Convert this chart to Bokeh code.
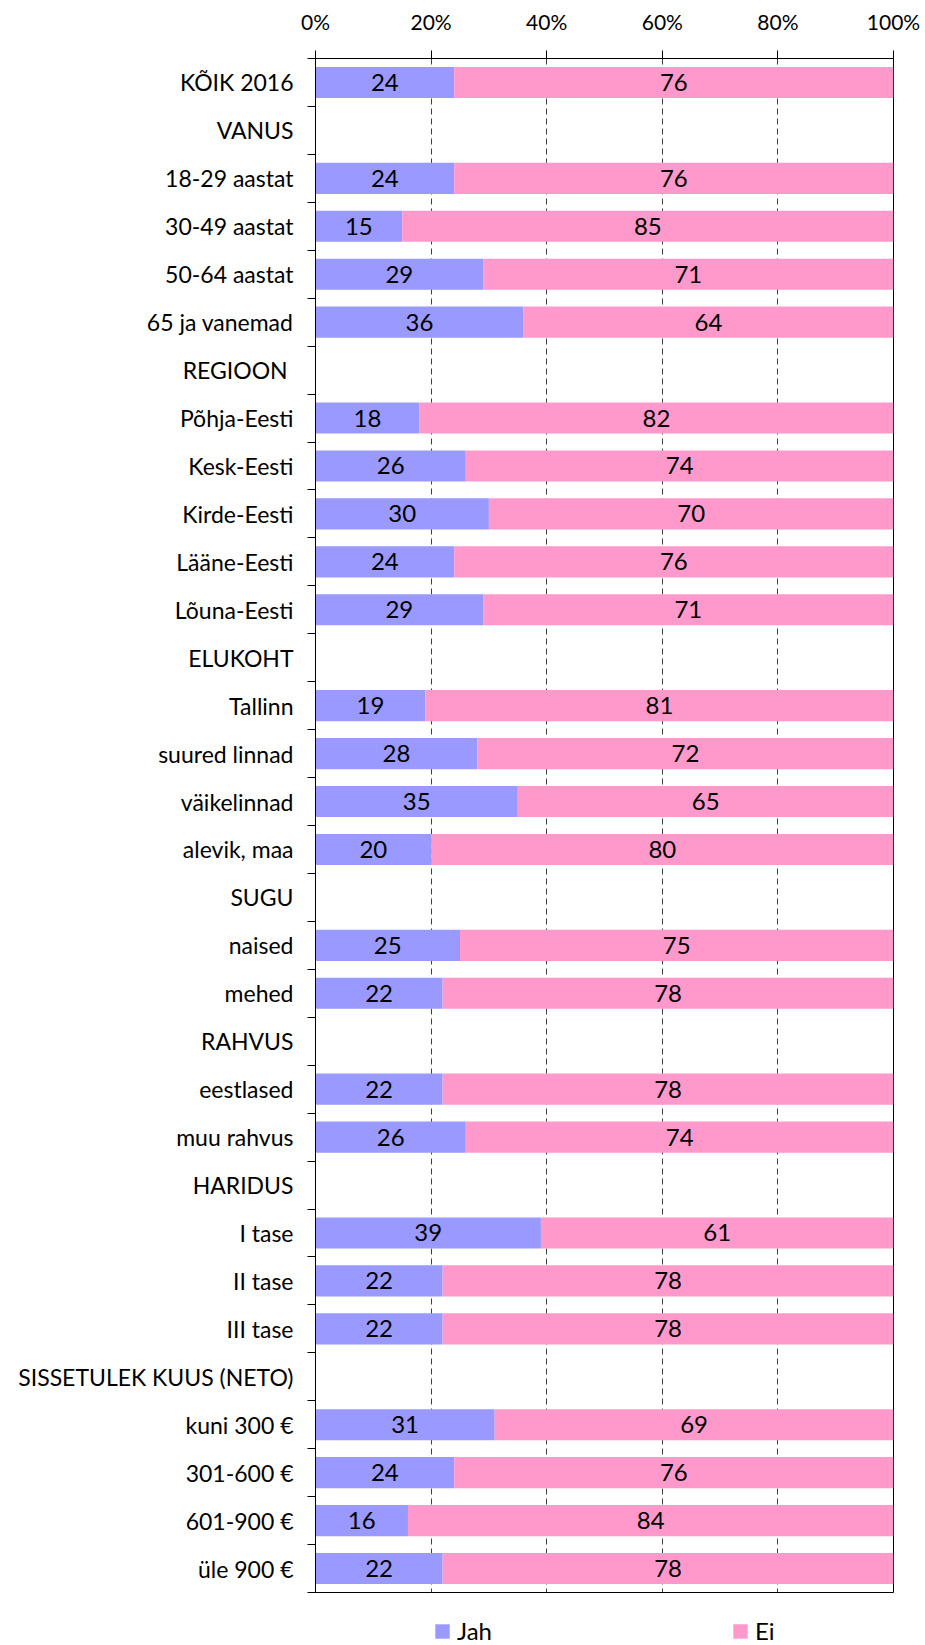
from bokeh.plotting import figure
from bokeh.layouts import column
from bokeh.models import (Range1d, FixedTicker, PrintfTickFormatter, Legend, LegendItem,
                          ColumnDataSource)
from bokeh.embed import file_html
from bokeh.resources import INLINE

categories = ["KÕIK 2016", "VANUS", "18-29 aastat", "30-49 aastat", "50-64 aastat",
              "65 ja vanemad", "REGIOON ", "Põhja-Eesti", "Kesk-Eesti", "Kirde-Eesti",
              "Lääne-Eesti", "Lõuna-Eesti", "ELUKOHT", "Tallinn", "suured linnad",
              "väikelinnad", "alevik, maa", "SUGU", "naised", "mehed", "RAHVUS",
              "eestlased", "muu rahvus", "HARIDUS", "I tase", "II tase", "III tase",
              "SISSETULEK KUUS (NETO)", "kuni 300 €", "301-600 €", "601-900 €", "üle 900 €"]
jah = [24, None, 24, 15, 29, 36, None, 18, 26, 30, 24, 29, None, 19, 28, 35, 20, None,
       25, 22, None, 22, 26, None, 39, 22, 22, None, 31, 24, 16, 22]
ei = [76, None, 76, 85, 71, 64, None, 82, 74, 70, 76, 71, None, 81, 72, 65, 80, None,
      75, 78, None, 78, 74, None, 61, 78, 78, None, 69, 76, 84, 78]
series_names = ["Jah", "Ei"]
x_ticks = [0, 20, 40, 60, 80, 100]

JAH_COLOR = "#9999FF"
EI_COLOR = "#FF99CC"
FONT = "Lato"

n = len(categories)
centers = [i + 0.5 for i in range(n)]
rows = [i for i in range(n) if jah[i] is not None]
src = ColumnDataSource(dict(
    y=[centers[i] for i in rows],
    jah=[jah[i] for i in rows],
    ei_right=[jah[i] + ei[i] for i in rows],
    jah_mid=[jah[i] / 2 for i in rows],
    ei_mid=[jah[i] + ei[i] / 2 for i in rows],
    jah_txt=[str(jah[i]) for i in rows],
    ei_txt=[str(ei[i]) for i in rows],
))

p = figure(width=925, height=1608, output_backend="svg", toolbar_location=None,
           x_range=Range1d(0, 100), y_range=Range1d(n, 0),
           x_axis_location="above",
           min_border_left=315, min_border_right=32, min_border_top=58, min_border_bottom=16)
p.outline_line_color = "black"
p.outline_line_width = 1
p.background_fill_color = "white"
p.border_fill_color = "white"

# grid
p.ygrid.visible = False
p.xgrid.ticker = FixedTicker(ticks=x_ticks[1:])
p.xgrid.grid_line_color = "#404040"
p.xgrid.grid_line_dash = "6 4"
p.xgrid.grid_line_width = 1

# bars
p.hbar(y="y", left=0, right="jah", height=0.65, source=src, fill_color=JAH_COLOR,
       line_color=None)
p.hbar(y="y", left="jah", right="ei_right", height=0.65, source=src,
       fill_color=EI_COLOR, line_color=None)

# labels
p.text(x="jah_mid", y="y", text="jah_txt", source=src, text_align="center",
       text_baseline="middle", text_font_size="24px", text_color="black",
       text_font={"value": FONT})
p.text(x="ei_mid", y="y", text="ei_txt", source=src, text_align="center",
       text_baseline="middle", text_font_size="24px", text_color="black",
       text_font={"value": FONT})

# top axis
xa = p.xaxis[0]
xa.ticker = FixedTicker(ticks=x_ticks)
xa.formatter = PrintfTickFormatter(format="%d%%")
xa.major_tick_out = 8
xa.major_tick_in = 0
xa.minor_tick_out = 0
xa.minor_tick_in = 0
xa.axis_line_color = "black"
xa.major_tick_line_color = "black"
xa.major_label_text_font = FONT
xa.major_label_text_font_size = "21px"
xa.major_label_text_color = "black"
xa.major_label_standoff = 17

# left axis
ya = p.yaxis[0]
ya.ticker = FixedTicker(ticks=centers, minor_ticks=list(range(n + 1)))
ya.major_label_overrides = {c: lab for c, lab in zip(centers, categories)}
ya.major_tick_out = 0
ya.major_tick_in = 0
ya.minor_tick_out = 8
ya.minor_tick_in = 0
ya.minor_tick_line_color = "black"
ya.axis_line_color = "black"
ya.major_label_text_font = FONT
ya.major_label_text_font_size = "23px"
ya.major_label_text_color = "black"
ya.major_label_standoff = 14

# legend strip (its renderers share the data but are hidden; only legend swatches show)
p2 = figure(width=925, height=37, output_backend="svg", toolbar_location=None,
            x_range=p.x_range, y_range=Range1d(-2, -1),
            min_border_left=315, min_border_right=32, min_border_top=0, min_border_bottom=0)
p2.axis.visible = False
p2.grid.visible = False
p2.outline_line_color = None
p2.border_fill_color = "white"
l1 = p2.hbar(y="y", left=0, right="jah", height=0.65, source=src,
             fill_color=JAH_COLOR, line_color=None, visible=False)
l2 = p2.hbar(y="y", left="jah", right="ei_right", height=0.65, source=src,
             fill_color=EI_COLOR, line_color=None, visible=False)
legend = Legend(items=[LegendItem(label=series_names[0], renderers=[l1]),
                       LegendItem(label=series_names[1], renderers=[l2])],
                orientation="horizontal", location=(118, 0),
                glyph_width=18, glyph_height=18, label_standoff=6, spacing=239,
                padding=0, margin=0, border_line_color=None,
                background_fill_alpha=0,
                label_text_font=FONT, label_text_font_size="24px",
                label_text_color="black")
p2.add_layout(legend, "center")

layout = column(p, p2, spacing=0)
open("out.html", "w").write(file_html(layout, INLINE))
